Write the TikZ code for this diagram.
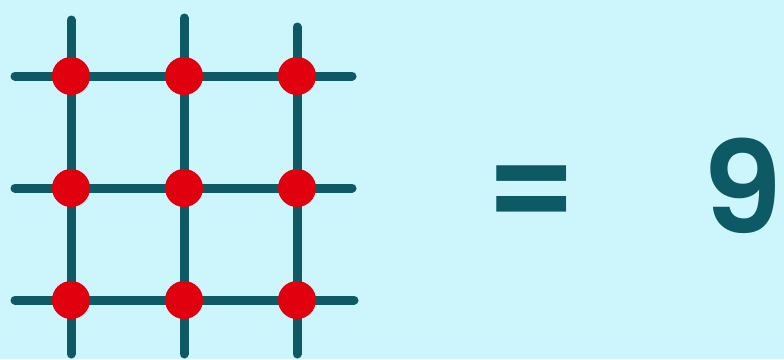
\documentclass[tikz,border=0pt]{standalone}
\usepackage{fontspec}
\newfontfamily\popfont{Poppins}[UprightFont=* SemiBold]
\definecolor{bgc}{HTML}{CCF6FB}
\definecolor{teal}{HTML}{0E5A64}
\definecolor{dotred}{HTML}{E0000E}
\begin{document}
\begin{tikzpicture}[x=1pt,y=-1pt,
  gridline/.style={draw=teal,line width=9pt,line cap=round},
  dot/.style={circle,fill=dotred,minimum size=38pt,inner sep=0pt},
  bigtext/.style={text=teal,font=\popfont\fontsize{128}{128}\selectfont,inner sep=0pt,anchor=base}]
\fill[bgc] (0,0) rectangle (784,359);
\useasboundingbox (0,0) rectangle (784,359);
% grid line end points
\coordinate (v1t) at (71,20);  \coordinate (v1b) at (71,354);
\coordinate (v2t) at (184,18); \coordinate (v2b) at (184,354);
\coordinate (v3t) at (297,27); \coordinate (v3b) at (297,354);
\coordinate (h1l) at (15,76);  \coordinate (h1r) at (352,76);
\coordinate (h2l) at (15,188); \coordinate (h2r) at (352,188);
\coordinate (h3l) at (15,300); \coordinate (h3r) at (354,300);
\draw[gridline] (v1t) -- (v1b);
\draw[gridline] (v2t) -- (v2b);
\draw[gridline] (v3t) -- (v3b);
\draw[gridline] (h1l) -- (h1r);
\draw[gridline] (h2l) -- (h2r);
\draw[gridline] (h3l) -- (h3r);
\foreach \c [count=\i] in {71,184,297}{
  \foreach \r [count=\j] in {76,188,300}{
    \node[dot] (d\i\j) at (\c,\r) {};
  }
}
\node[bigtext] (eq) at (532,234) {=};
\node[bigtext] (nine) at (743,233) {9};
\end{tikzpicture}
\end{document}
